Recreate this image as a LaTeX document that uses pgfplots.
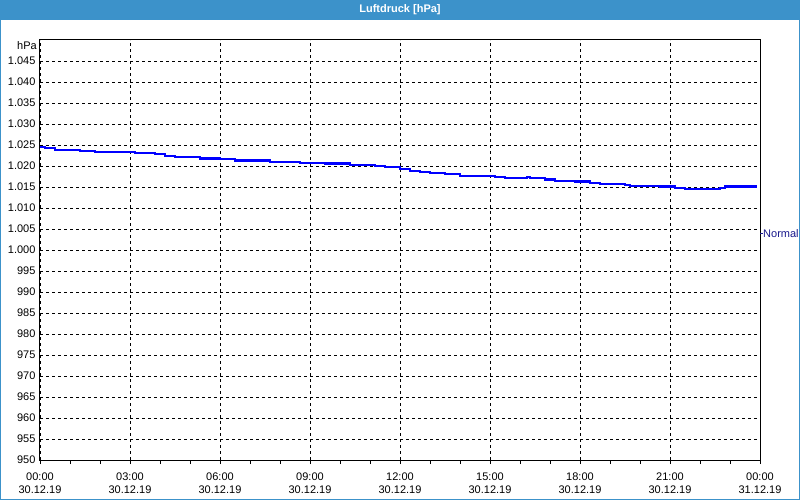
\documentclass[border=0pt]{standalone}
\usepackage{fontspec}
\setmainfont{Liberation Sans}
\usepackage{pgfplots}
\pgfplotsset{compat=1.18}
\definecolor{barblue}{RGB}{60,146,202}
\definecolor{normalblue}{RGB}{25,25,140}
\newcommand{\lbl}{\fontsize{11bp}{13bp}\selectfont}

\pgfplotstableread{
h     p
0     1024.6
0.17  1024.2
0.5   1023.8
1.33  1023.5
1.83  1023.3
3.17  1023.0
3.83  1022.8
4.17  1022.4
4.5   1022.05
5.33  1021.8
6.0   1021.6
6.5   1021.3
7.67  1021.0
8.67  1020.8
9.5   1020.6
10.33 1020.3
11.17 1020.0
11.5  1019.7
12.0  1019.2
12.33 1018.9
12.67 1018.65
13.0  1018.4
13.5  1018.1
14.0  1017.7
15.17 1017.45
15.5  1017.2
16.22 1017.45
16.33 1017.2
16.83 1016.8
17.17 1016.5
17.83 1016.3
18.33 1016.0
18.67 1015.8
19.5  1015.55
19.67 1015.3
20.67 1015.1
21.17 1014.85
21.5  1014.6
22.67 1014.85
22.83 1015.1
23.89 1015.1
}\druck

\begin{document}
\begin{tikzpicture}
\useasboundingbox (0,0) rectangle (800bp,500bp);
\fill[white] (0,0) rectangle (800bp,500bp);
\fill[barblue] (0,480bp) rectangle (800bp,500bp);
\node[white, font=\lbl\bfseries] at (400bp,490bp) {Luftdruck [hPa]};
\draw[barblue, line width=1bp] (0.5bp,0.5bp) rectangle (799.5bp,499.5bp);

\begin{axis}[
  at={(40bp,40bp)}, anchor=south west,
  scale only axis, width=720bp, height=420bp,
  clip=false,
  xmin=0, xmax=24, ymin=950, ymax=1050,
  xtick={0,3,...,24}, minor x tick num=2,
  ytick={950,955,...,1045},
  xticklabels={{00:00\\30.12.19},{03:00\\30.12.19},{06:00\\30.12.19},{09:00\\30.12.19},{12:00\\30.12.19},{15:00\\30.12.19},{18:00\\30.12.19},{21:00\\30.12.19},{00:00\\31.12.19}},
  xticklabel style={align=center, font=\lbl, yshift=-5bp},
  yticklabel style={font=\lbl, xshift=3bp},
  /pgf/number format/1000 sep={.},
  /pgf/number format/assume math mode=true,
  grid=major,
  grid style={black, line width=0.8bp, dash pattern=on 3bp off 3bp},
  axis line style={black, line width=1bp},
  tick align=outside, xtick pos=lower, ytick pos=left,
  major tick length=4bp, minor tick length=4bp,
  tick style={black, line width=0.8bp},
  ytick style={draw=none},
]
\addplot[const plot, blue, line width=2.2bp] table[x=h, y=p] {\druck};
\draw[normalblue, line width=0.8bp] (axis cs:24,1004) -- ++(3bp,0bp);
\node[anchor=west, normalblue, font=\lbl, inner sep=0pt] at (axis cs:24,1004) [xshift=3bp] {Normal};
\node[anchor=east, font=\lbl, inner sep=0pt] at (rel axis cs:0,1) [xshift=-3bp, yshift=-6bp] {hPa};
\end{axis}
\end{tikzpicture}
\end{document}
